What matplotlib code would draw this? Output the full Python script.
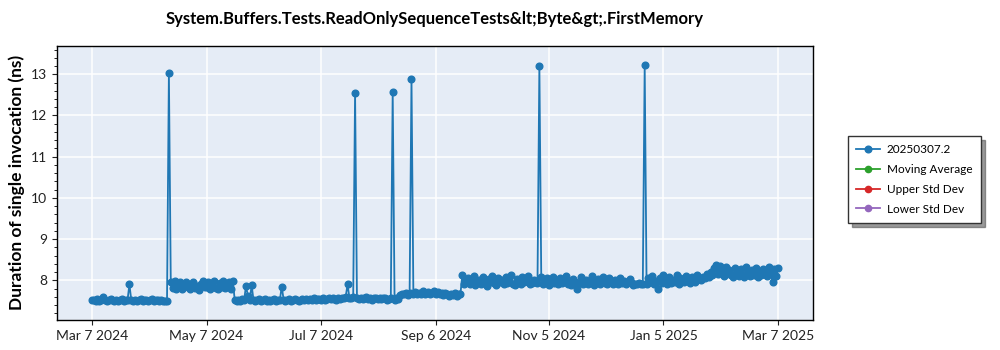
import matplotlib.pyplot as plt
import matplotlib.dates as mdates
import pandas as pd

plt.rcParams['font.family'] = ['Lato', 'DejaVu Sans']

title = 'System.Buffers.Tests.ReadOnlySequenceTests&lt;Byte&gt;.FirstMemory'
series_name = '20250307.2'
start_date = '2024-03-07'

# one run per day, in ns
duration_ns = [
    7.53, 7.52, 7.51, 7.54, 7.50, 7.52, 7.60, 7.53, 7.51, 7.52,
    7.54, 7.52, 7.50, 7.53, 7.51, 7.52, 7.55, 7.51, 7.53, 7.52,
    7.90, 7.52, 7.51, 7.53, 7.50, 7.52, 7.54, 7.51, 7.52, 7.53,
    7.51, 7.52, 7.54, 7.50, 7.52, 7.53, 7.51, 7.52, 7.50, 7.51, 7.50,
    13.02,
    7.95, 7.82, 7.98, 7.80, 7.86, 7.96, 7.79, 7.84, 7.97, 7.83,
    7.78, 7.88, 7.95, 7.81, 7.86, 7.76, 7.90, 7.98, 7.83, 7.85,
    7.96, 7.80, 7.87, 7.99, 7.82, 7.78, 7.93, 7.84, 7.98, 7.81,
    7.86, 7.97, 7.80, 7.99,
    7.52, 7.50, 7.53, 7.51, 7.54, 7.52, 7.87, 7.62, 7.53, 7.88,
    7.52, 7.50, 7.53, 7.54, 7.51, 7.52, 7.55, 7.50, 7.53, 7.51,
    7.52, 7.54, 7.50, 7.53, 7.52, 7.85, 7.53, 7.51, 7.52, 7.54,
    7.50, 7.53, 7.55, 7.52, 7.51, 7.53, 7.54, 7.52, 7.55, 7.53,
    7.54, 7.52, 7.56, 7.53, 7.55, 7.54, 7.52, 7.56, 7.53, 7.55,
    7.57, 7.54, 7.56, 7.55, 7.53, 7.57, 7.55, 7.58, 7.56, 7.60,
    7.90, 7.58, 7.56, 7.59,
    12.55,
    7.57, 7.55, 7.58, 7.54, 7.56, 7.59, 7.55, 7.57, 7.53, 7.56,
    7.58, 7.55, 7.57, 7.54, 7.56, 7.58, 7.53, 7.55, 7.57,
    12.57,
    7.52, 7.56, 7.55,
    7.64, 7.68, 7.66, 7.70, 7.65, 7.69, 12.88, 7.67, 7.71, 7.66,
    7.70, 7.68, 7.73, 7.66, 7.69, 7.72, 7.67, 7.70, 7.75, 7.68,
    7.71, 7.66, 7.69, 7.64, 7.70, 7.67, 7.62, 7.68, 7.65, 7.70,
    7.63, 7.67, 7.66,
    8.12, 7.92, 7.98, 8.05, 7.90, 7.96, 8.10, 7.88, 7.99, 8.02,
    7.91, 8.08, 7.95, 7.87, 8.03, 7.97, 8.11, 7.93, 7.89, 8.06,
    7.96, 8.00, 7.90, 8.09, 7.94, 7.98, 8.13, 7.92, 7.88, 8.04,
    7.97, 7.91, 8.07, 7.95, 7.99, 8.10, 7.90, 7.93, 8.02, 7.96,
    7.94,
    13.20,
    8.08, 7.92, 7.97, 8.05, 7.89, 7.95, 8.09, 7.93, 7.98, 7.90,
    8.06, 7.94, 7.99, 8.11, 7.91, 7.96, 7.88, 8.03, 7.95, 7.78,
    7.93, 8.07, 7.90, 7.97, 8.02, 7.92, 7.95, 8.10, 7.89, 7.96,
    8.04, 7.91, 7.98, 8.08, 7.93, 7.90, 8.05, 7.97, 7.92, 8.01,
    7.95, 7.90, 8.06, 7.94, 7.99, 7.91, 7.96, 8.03, 7.93, 7.89,
    7.92, 7.90, 7.93, 7.91, 7.92,
    13.22,
    7.90, 8.05, 7.95, 8.10, 7.92, 7.98, 7.80, 8.06, 7.93, 8.12,
    7.96, 7.90, 8.08, 7.94, 8.01, 7.97, 8.14, 7.92, 8.05, 7.98,
    7.95, 8.10, 7.99, 7.93, 8.07, 8.02, 7.97, 8.12, 8.04, 8.00,
    8.09, 8.05, 8.15, 8.08,
    8.20, 8.12, 8.30, 8.38, 8.15, 8.35, 8.22, 8.10, 8.33, 8.18,
    8.25, 8.12, 8.08, 8.30, 8.16, 8.10, 8.28, 8.14, 8.09, 8.32,
    8.18, 8.11, 8.25, 8.13, 8.30, 8.08, 8.20, 8.12, 8.27, 8.15,
    8.10, 8.32, 8.18, 7.95, 8.28, 8.10, 8.30,
]

# statistic series have no points here, they only show in the legend
moving_average = []
upper_std_dev = []
lower_std_dev = []

tick_dates = ['2024-03-07', '2024-05-07', '2024-07-07', '2024-09-06',
              '2024-11-05', '2025-01-05', '2025-03-07']

dates = pd.date_range(start_date, periods=len(duration_ns), freq='D')
tick_dates = pd.to_datetime(tick_dates)

fig = plt.figure(figsize=(10, 3.5), dpi=100)
ax = fig.add_axes([0.057, 0.086, 0.756, 0.783])
ax.set_facecolor('#e5ecf6')

ax.plot(dates, duration_ns, color='#1f77b4', lw=1.3, marker='o', ms=4.8,
        label=series_name, zorder=3)
ax.plot(moving_average, moving_average, color='#2ca02c', lw=1.3, marker='o', ms=4.5,
        label='Moving Average')
ax.plot(upper_std_dev, upper_std_dev, color='#d62728', lw=1.3, marker='o', ms=4.5,
        label='Upper Std Dev')
ax.plot(lower_std_dev, lower_std_dev, color='#9467bd', lw=1.3, marker='o', ms=4.5,
        label='Lower Std Dev')

pad = pd.Timedelta(days=18.5)
ax.set_xlim(dates[0] - pad, dates[-1] + pad)
ax.set_ylim(7.04, 13.69)

ax.set_xticks(tick_dates)
ax.xaxis.set_major_formatter(mdates.DateFormatter('%b %-d %Y'))
ax.set_yticks(range(8, 14))
ax.yaxis.set_minor_locator(plt.MultipleLocator(0.2))
ax.tick_params(axis='both', labelsize=10, colors='#222222', direction='out')
ax.tick_params(axis='y', which='minor', length=2.5)
ax.grid(True, color='white', lw=1.1)
ax.set_axisbelow(True)
for s in ax.spines.values():
    s.set_color('black')
    s.set_linewidth(1)

ax.set_ylabel('Duration of single invocation (ns)', fontsize=12.5, fontweight='bold')
fig.text(0.435, 0.945, title, ha='center', va='center', fontsize=12, fontweight='bold')

fig.legend(loc='upper left', bbox_to_anchor=(0.848, 0.612), borderaxespad=0,
           fontsize=8.5, frameon=True, fancybox=False, edgecolor='#333333',
           shadow={'ox': 3, 'oy': -3, 'color': '#555555', 'alpha': 0.6},
           handlelength=2.0, handletextpad=0.6, labelspacing=0.75, borderpad=0.7)

fig.savefig('out.png', dpi=100)
